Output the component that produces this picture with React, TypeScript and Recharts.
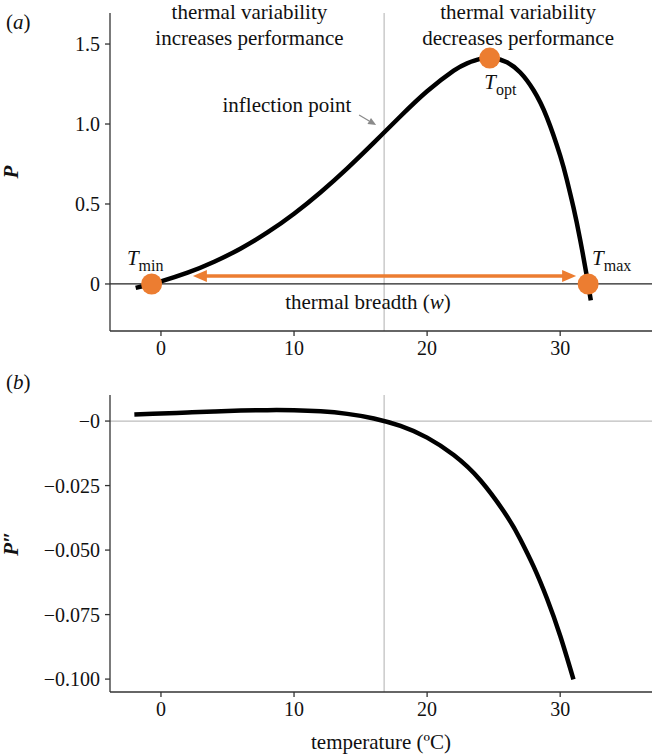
import React from 'react';
import {
  LineChart,
  Line,
  XAxis,
  YAxis,
  ReferenceLine,
  ReferenceDot,
  Label,
} from 'recharts';

// performance curve P(T)
const perfTemp = [-1.9, -1, 0, 2, 4, 6, 8, 10, 12, 14, 16, 18, 20, 22, 23, 24, 25, 26, 27, 28, 29, 30, 30.5, 31, 31.5, 32, 32.3];
const perfValue = [-0.0244, -0.0065, 0.0161, 0.0705, 0.1387, 0.2221, 0.3221, 0.4393, 0.5737, 0.7231, 0.8838, 1.0484, 1.2045, 1.3335, 1.3796, 1.4075, 1.4116, 1.3858, 1.322, 1.211, 1.042, 0.8025, 0.6516, 0.4775, 0.2772, 0.0494, -0.102];

// second derivative P''(T)
const curvTemp = [-2, 0, 2, 4, 6, 8, 10, 12, 14, 16, 18, 20, 22, 24, 26, 27, 28, 29, 30, 31];
const curvValue = [0.00251, 0.00292, 0.00334, 0.00373, 0.00405, 0.00423, 0.00418, 0.00376, 0.00279, 0.00102, -0.0019, -0.00642, -0.01317, -0.02295, -0.03686, -0.04579, -0.05632, -0.06869, -0.08319, -0.10012];

// key points
const tMin = -0.7;
const tMax = 32.1;
const tOpt = 24.7;
const pOpt = 1.412;
const tInflection = 16.77;
const breadthFrom = 2.4;
const breadthTo = 31.2;
const breadthLevel = 0.05;

const xTicks = [0, 10, 20, 30];
const perfTicks = [0, 0.5, 1, 1.5];
const curvTicks = [-0.1, -0.075, -0.05, -0.025, 0];

const perfData = perfTemp.map((t, i) => ({ t, p: perfValue[i] }));
const curvData = curvTemp.map((t, i) => ({ t, d: curvValue[i] }));

const FONT = '"Liberation Serif", "DejaVu Serif", serif';
const ORANGE = '#EC7D31';
const GREY = '#BDBDBD';
const AXIS = '#333333';
const X_DOMAIN = [-3.83, 36.9];

const tickStyle = { fill: '#111', fontSize: 20, fontFamily: FONT };

const BreadthArrow = (props: any) => {
  const { x1, y1, x2, y2 } = props;
  const head = 14;
  const half = 6;
  return (
    <g>
      <line x1={x1 + head - 1} y1={y1} x2={x2 - head + 1} y2={y2} stroke={ORANGE} strokeWidth={3.5} />
      <polygon points={`${x1},${y1} ${x1 + head},${y1 - half} ${x1 + head},${y1 + half}`} fill={ORANGE} />
      <polygon points={`${x2},${y2} ${x2 - head},${y2 - half} ${x2 - head},${y2 + half}`} fill={ORANGE} />
    </g>
  );
};

const PointerArrow = (props: any) => {
  const { x1, y1, x2, y2 } = props;
  const ang = Math.atan2(y2 - y1, x2 - x1);
  const len = 8;
  const w = 3.5;
  const bx = x2 - len * Math.cos(ang);
  const by = y2 - len * Math.sin(ang);
  const px = -Math.sin(ang) * w;
  const py = Math.cos(ang) * w;
  return (
    <g>
      <line x1={x1} y1={y1} x2={bx} y2={by} stroke="#8a8a8a" strokeWidth={1.3} />
      <polygon points={`${x2},${y2} ${bx + px},${by + py} ${bx - px},${by - py}`} fill="#8a8a8a" />
    </g>
  );
};

// text placed at data coordinates (baseline at y)
const note = (key: string, x: number, y: number, text: string, anchor = 'middle') => (
  <ReferenceDot
    key={key}
    x={x}
    y={y}
    ifOverflow="visible"
    shape={(p: any) => (
      <text x={p.cx} y={p.cy} textAnchor={anchor} fontFamily={FONT} fontSize={21} fill="#111">
        {text}
      </text>
    )}
  />
);

const tLabel = (key: string, x: number, y: number, sub: string) => (
  <ReferenceDot
    key={key}
    x={x}
    y={y}
    ifOverflow="visible"
    shape={(p: any) => (
      <text x={p.cx} y={p.cy} fontFamily={FONT} fill="#111">
        <tspan fontSize={21} fontStyle="italic">T</tspan>
        <tspan fontSize={16} dy={6}>{sub}</tspan>
      </text>
    )}
  />
);

const axisTitle = (text: string) => (props: any) => {
  const vb = props.viewBox;
  const cy = vb.y + vb.height / 2;
  return (
    <text
      x={11}
      y={cy}
      transform={`rotate(-90, 11, ${cy})`}
      textAnchor="middle"
      dominantBaseline="central"
      fontFamily={FONT}
      fontSize={21}
      fontWeight="bold"
      fontStyle="italic"
      fill="#111"
    >
      {text}
    </text>
  );
};

const orangeDot = (key: string, x: number, y: number) => (
  <ReferenceDot key={key} x={x} y={y} r={10.5} fill={ORANGE} stroke="none" ifOverflow="visible" />
);

export default function App() {
  return (
    <div style={{ position: 'absolute', left: 0, top: 0, width: 652, height: 756, background: '#fff' }}>
      <div style={{ position: 'absolute', left: 0, top: 0 }}>
        <LineChart width={652} height={370} data={perfData} margin={{ top: 13, right: 0, bottom: 0, left: 0 }}>
          <XAxis
            dataKey="t"
            type="number"
            domain={X_DOMAIN}
            ticks={xTicks}
            allowDataOverflow
            height={39}
            tickSize={5}
            tickMargin={5}
            stroke={AXIS}
            strokeWidth={1.3}
            tick={tickStyle}
          />
          <YAxis
            type="number"
            domain={[-0.294, 1.694]}
            ticks={perfTicks}
            allowDataOverflow
            width={110}
            tickSize={5}
            tickMargin={5}
            stroke={AXIS}
            strokeWidth={1.3}
            tick={tickStyle}
            tickFormatter={(v: number) => (v === 0 ? '0' : v.toFixed(1))}
          >
            <Label content={axisTitle('P')} />
          </YAxis>
          <ReferenceLine x={tInflection} stroke={GREY} strokeWidth={1.2} />
          <ReferenceLine y={0} stroke="#222" strokeWidth={1.3} />
          <Line dataKey="p" type="natural" stroke="#000" strokeWidth={4.5} dot={false} isAnimationActive={false} />
          <ReferenceLine
            segment={[{ x: breadthFrom, y: breadthLevel }, { x: breadthTo, y: breadthLevel }]}
            shape={BreadthArrow}
            ifOverflow="visible"
          />
          <ReferenceLine
            segment={[{ x: 14.89, y: 1.056 }, { x: 16.17, y: 0.994 }]}
            shape={PointerArrow}
            ifOverflow="visible"
          />
          {orangeDot('dmin', tMin, 0)}
          {orangeDot('dmax', tMax, 0)}
          {orangeDot('dopt', tOpt, pOpt)}
          {note('n1', 6.65, 1.656, 'thermal variability')}
          {note('n2', 6.65, 1.494, 'increases performance')}
          {note('n3', 26.84, 1.656, 'thermal variability')}
          {note('n4', 26.84, 1.494, 'decreases performance')}
          {note('n5', 9.47, 1.075, 'inflection point')}
          {tLabel('lmin', -2.56, 0.119, 'min')}
          {tLabel('lmax', 32.4, 0.119, 'max')}
          {tLabel('lopt', 24.29, 1.219, 'opt')}
          <ReferenceDot
            x={15.56}
            y={-0.156}
            ifOverflow="visible"
            shape={(p: any) => (
              <text x={p.cx} y={p.cy} textAnchor="middle" fontFamily={FONT} fontSize={21} fill="#111">
                thermal breadth (<tspan fontStyle="italic">w</tspan>)
              </text>
            )}
          />
        </LineChart>
      </div>

      <div style={{ position: 'absolute', left: 0, top: 370 }}>
        <LineChart width={652} height={386} data={curvData} margin={{ top: 25, right: 0, bottom: 0, left: 0 }}>
          <XAxis
            dataKey="t"
            type="number"
            domain={X_DOMAIN}
            ticks={xTicks}
            allowDataOverflow
            height={64}
            tickSize={5}
            tickMargin={5}
            stroke={AXIS}
            strokeWidth={1.3}
            tick={tickStyle}
          >
            <Label
              value="temperature (ºC)"
              position="insideBottom"
              offset={7}
              style={{ fontFamily: FONT, fontSize: 21, fill: '#111' }}
            />
          </XAxis>
          <YAxis
            type="number"
            domain={[-0.105, 0.0101]}
            ticks={curvTicks}
            allowDataOverflow
            width={110}
            tickSize={5}
            tickMargin={5}
            stroke={AXIS}
            strokeWidth={1.3}
            tick={tickStyle}
            tickFormatter={(v: number) => (v === 0 ? '\u22120' : '\u2212' + Math.abs(v).toFixed(3))}
          >
            <Label content={axisTitle('P\u2033')} />
          </YAxis>
          <ReferenceLine y={0} stroke={GREY} strokeWidth={1.2} />
          <ReferenceLine x={tInflection} stroke={GREY} strokeWidth={1.2} />
          <Line dataKey="d" type="natural" stroke="#000" strokeWidth={4.5} dot={false} isAnimationActive={false} />
        </LineChart>
      </div>

      <svg width={652} height={756} style={{ position: 'absolute', left: 0, top: 0, pointerEvents: 'none' }}>
        <text x={6} y={29} fontFamily={FONT} fontSize={21} fill="#111">
          (<tspan fontStyle="italic">a</tspan>)
        </text>
        <text x={6} y={389} fontFamily={FONT} fontSize={21} fill="#111">
          (<tspan fontStyle="italic">b</tspan>)
        </text>
      </svg>
    </div>
  );
}
